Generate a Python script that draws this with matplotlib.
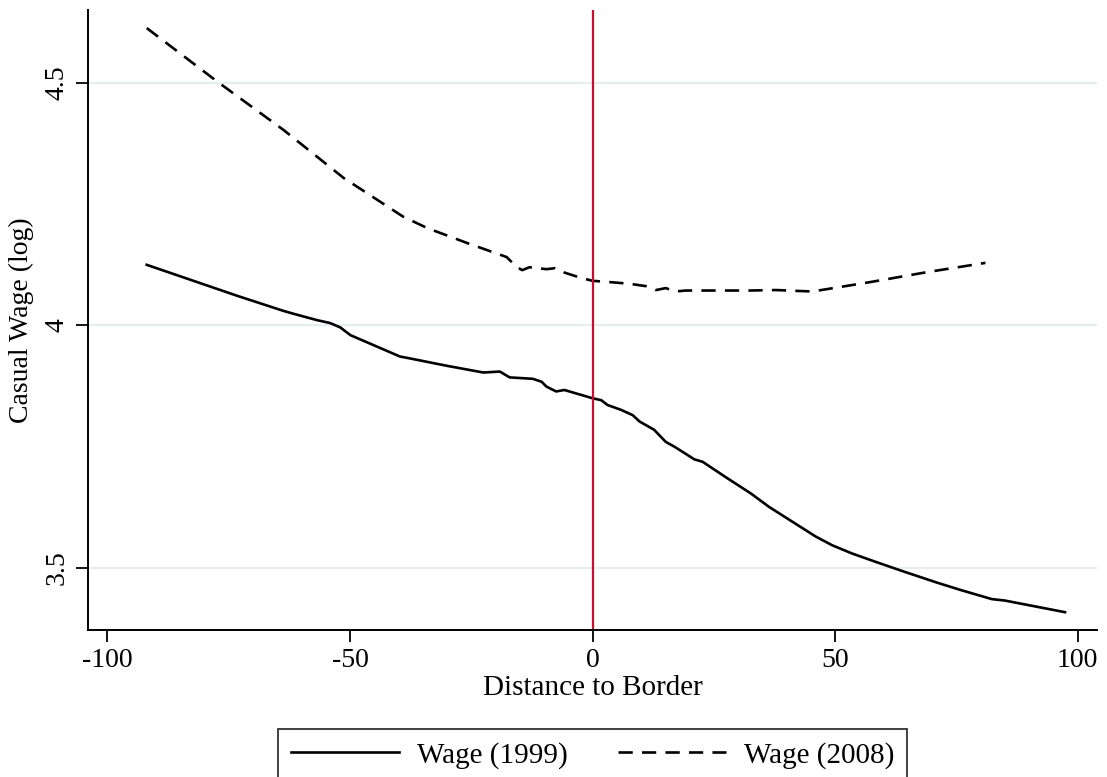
#!/usr/bin/env python
#
# Casual wage (log) against distance to border, 1999 vs 2008

import matplotlib
matplotlib.use("Agg")
import matplotlib.pyplot as plt

plt.rcParams['font.family'] = ['Liberation Serif', 'DejaVu Serif']

# 1999 wage curve
dist_1999 = [-91.9, -73.2, -63.7, -61.6, -56.8, -54.1, -52.0, -49.9, -39.7, -37.6,
             -30.1, -22.5, -19.1, -17.1, -12.3, -10.5, -9.5, -7.5, -5.8, 0.0,
             1.8, 3.1, 5.9, 8.3, 9.7, 12.7, 15.1, 16.9, 21.0, 22.7,
             27.5, 32.6, 36.4, 41.9, 46.0, 49.4, 53.5, 58.3, 63.8, 71.0,
             75.8, 82.3, 85.0, 97.4]
wage_1999 = [4.125, 4.061, 4.030, 4.024, 4.011, 4.005, 3.996, 3.980, 3.936, 3.932,
             3.917, 3.903, 3.905, 3.893, 3.890, 3.884, 3.874, 3.864, 3.867, 3.850,
             3.846, 3.836, 3.826, 3.815, 3.802, 3.785, 3.760, 3.750, 3.724, 3.719,
             3.687, 3.654, 3.626, 3.591, 3.565, 3.547, 3.530, 3.513, 3.494, 3.470,
             3.455, 3.436, 3.433, 3.409]

# 2008 wage curve
dist_2008 = [-91.9, -77.4, -63.7, -51.3, -39.0, -33.9, -30.4, -25.6, -20.8, -17.7,
             -15.7, -14.5, -13.0, -9.5, -7.8, -6.4, -2.7, 0.0, 2.8, 7.6,
             11.0, 13.1, 15.1, 17.1, 19.2, 24.0, 32.3, 37.8, 45.3, 52.1,
             57.6, 69.0, 81.0]
wage_2008 = [4.613, 4.503, 4.403, 4.304, 4.224, 4.200, 4.187, 4.169, 4.152, 4.141,
             4.121, 4.114, 4.120, 4.116, 4.118, 4.111, 4.099, 4.092, 4.090, 4.086,
             4.081, 4.073, 4.077, 4.070, 4.072, 4.072, 4.072, 4.073, 4.070, 4.081,
             4.090, 4.110, 4.129]

xticks = [-100, -50, 0, 50, 100]
yticks = [3.5, 4, 4.5]
ytick_labels = ['3.5', '4', '4.5']

fig = plt.figure(figsize=(11.07, 7.77), dpi=100)
ax = fig.add_axes([0.0795, 0.189, 0.9115, 0.798])

for y in yticks:
    ax.axhline(y, color='#e4eef0', lw=1.5, zorder=0)

ax.plot(dist_1999, wage_1999, color='black', lw=1.9, label='Wage (1999)')
ax.plot(dist_2008, wage_2008, color='black', lw=1.9, dashes=(5.4, 3.5), label='Wage (2008)')
ax.axvline(0, color='#c8102e', lw=1.6)

ax.set_xlim(-104, 104)
ax.set_ylim(3.372, 4.65)
ax.set_xticks(xticks)
ax.set_xticklabels([str(t) for t in xticks])
ax.set_yticks(yticks)
ax.set_yticklabels(ytick_labels, rotation=90, va='center')

for s in ['top', 'right']:
    ax.spines[s].set_visible(False)
for s in ['left', 'bottom']:
    ax.spines[s].set_linewidth(1.4)
ax.tick_params(direction='out', length=8.5, width=1.3, labelsize=20, pad=4.5)

ax.set_xlabel('Distance to Border', fontsize=21, labelpad=1)
ax.set_ylabel('Casual Wage (log)', fontsize=20, labelpad=8)

leg = fig.legend(loc='upper center', bbox_to_anchor=(0.5355, 0.062), ncol=2,
                 fontsize=21, frameon=True, fancybox=False, handlelength=3.7,
                 columnspacing=1.7, borderpad=0.45, handletextpad=0.62,
                 borderaxespad=0)
leg.get_frame().set_edgecolor('black')
leg.get_frame().set_linewidth(1.3)

plt.savefig('out.png', dpi=100)
